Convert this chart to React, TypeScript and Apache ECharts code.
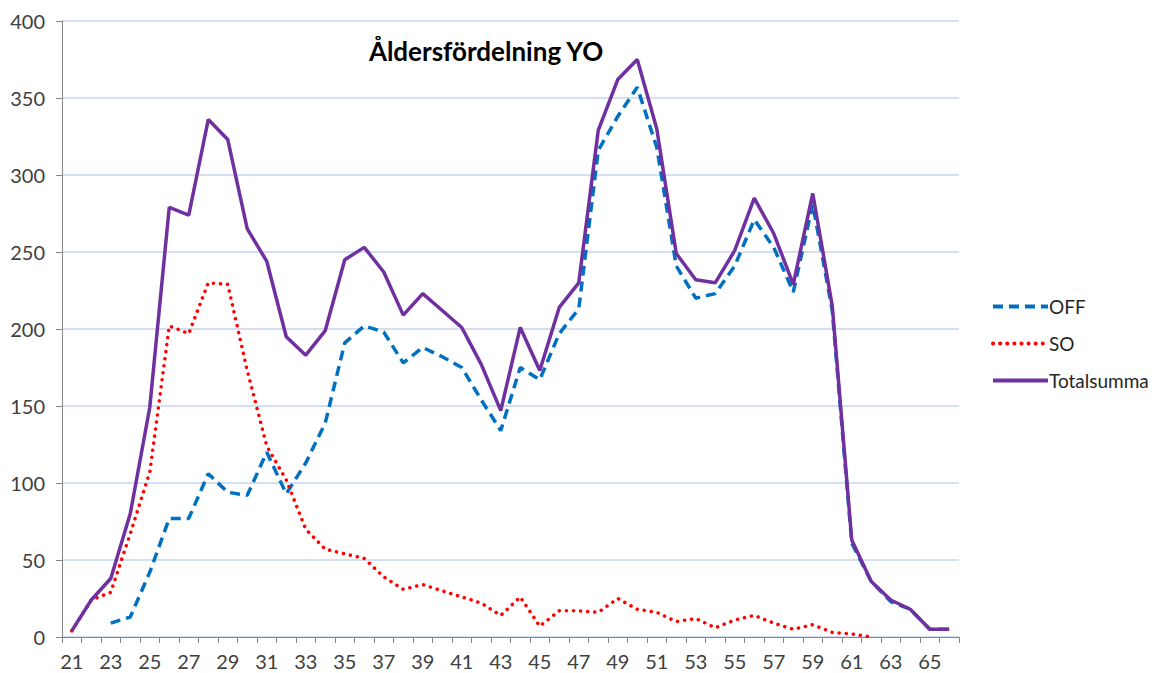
import React, { useEffect, useRef } from "react";
import * as echarts from "echarts";

const ages = ["21","22","23","24","25","26","27","28","29","30","31","32","33","34","35","36","37","38","39","40","41","42","43","44","45","46","47","48","49","50","51","52","53","54","55","56","57","58","59","60","61","62","63","64","65","66"];

const off: (number | null)[] = [null, null, 9, 13, 42, 77, 77, 106, 94, 92, 120, 93, 113, 139, 191, 202, 198, 178, 188, 182, 175, 154, 134, 175, 167, 197, 213, 316, 338, 357, 318, 241, 220, 223, 241, 271, 253, 224, 281, 212, 61, 36, 23, 18, 5, 5];

const so: (number | null)[] = [4, 24, 29, 67, 107, 202, 197, 230, 229, 173, 124, 102, 70, 57, 54, 51, 39, 31, 34, 30, 26, 22, 14, 26, 7, 17, 17, 16, 25, 18, 16, 10, 12, 6, 11, 14, 9, 5, 8, 3, 2, 0, null, null, null, null];

const total: number[] = [4, 24, 38, 80, 149, 279, 274, 336, 323, 265, 244, 195, 183, 199, 245, 253, 237, 209, 223, 212, 201, 177, 147, 201, 173, 214, 230, 329, 362, 375, 330, 249, 232, 230, 251, 285, 262, 229, 288, 215, 63, 36, 24, 18, 5, 5];

const yTicks = { min: 0, max: 400, interval: 50 };

export default function App() {
  const ref = useRef<HTMLDivElement>(null);
  useEffect(() => {
    if (!ref.current) return;
    const chart = echarts.init(ref.current, undefined, { renderer: "svg" });
    const font = "Lato, 'Open Sans', sans-serif";
    chart.setOption({
      animation: false,
      backgroundColor: "#ffffff",
      textStyle: { fontFamily: font },
      title: {
        text: "Åldersfördelning YO",
        left: 481,
        top: 33,
        textAlign: "center",
        textStyle: { fontFamily: font, fontSize: 26, fontWeight: "bold", color: "#000000" },
      },
      legend: {
        orient: "vertical",
        left: 986,
        top: 292,
        itemWidth: 55,
        itemHeight: 12,
        itemGap: 18,
        itemStyle: { opacity: 0 },
        lineStyle: { width: 4 },
        textStyle: { fontFamily: font, fontSize: 19, color: "#262626", padding: [0, 0, 0, -4] },
        data: ["OFF", "SO", "Totalsumma"],
      },
      grid: { left: 62, right: 196, top: 21, bottom: 36, containLabel: false },
      xAxis: {
        type: "category",
        data: ages,
        boundaryGap: true,
        axisLine: { lineStyle: { color: "#868686", width: 1 } },
        axisTick: { show: true, interval: 0, length: 6, lineStyle: { color: "#868686" } },
        axisLabel: { interval: 1, fontSize: 20, color: "#404040", margin: 14, fontFamily: font },
        splitLine: { show: false },
      },
      yAxis: {
        type: "value",
        min: yTicks.min,
        max: yTicks.max,
        interval: yTicks.interval,
        axisLine: { show: true, lineStyle: { color: "#868686", width: 1 } },
        axisTick: { show: true, length: 6, lineStyle: { color: "#868686" } },
        axisLabel: { fontSize: 20, color: "#404040", margin: 17, fontFamily: font },
        splitLine: { show: true, lineStyle: { color: "#c6d5ec", width: 1.5 } },
      },
      series: [
        {
          name: "OFF",
          type: "line",
          data: off,
          symbol: "none",
          connectNulls: false,
          z: 2,
          lineStyle: { color: "#0070C0", width: 3.5, type: [10, 6] },
          itemStyle: { color: "#0070C0" },
        },
        {
          name: "SO",
          type: "line",
          data: so,
          symbol: "none",
          z: 3,
          lineStyle: { color: "#FF0000", width: 3.5, type: [0.1, 7], cap: "round" },
          itemStyle: { color: "#FF0000" },
        },
        {
          name: "Totalsumma",
          type: "line",
          data: total,
          symbol: "none",
          z: 4,
          lineStyle: { color: "#7030A0", width: 3.5 },
          itemStyle: { color: "#7030A0" },
        },
      ],
    });
    return () => chart.dispose();
  }, []);
  return <div ref={ref} style={{ width: 1155, height: 673, position: "absolute", left: 0, top: 0 }} />;
}
